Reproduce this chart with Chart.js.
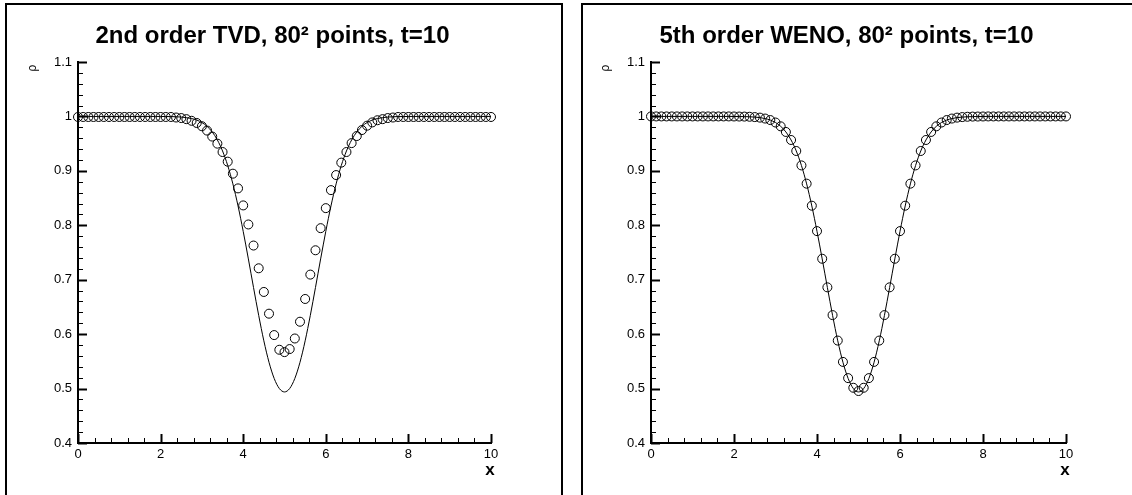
<!DOCTYPE html>
<html><head><meta charset="utf-8">
<script src="https://cdn.jsdelivr.net/npm/chart.js@4.4.1/dist/chart.umd.min.js"></script>
<style>
html,body{margin:0;padding:0;width:1132px;height:495px;overflow:hidden;background:#fff;}
.panel{position:absolute;top:3px;width:554px;height:600px;border:2px solid #000;}
#p1{left:5px;} #p2{left:581px;}
.wrap{position:absolute;top:0;height:495px;}
#w1{left:0;width:570px;} #w2{left:573px;width:559px;}
</style></head><body>
<div class="panel" id="p1"></div><div class="panel" id="p2"></div>
<div class="wrap" id="w1"><canvas id="c1"></canvas></div>
<div class="wrap" id="w2"><canvas id="c2"></canvas></div>
<script>
const xValues = [0,0.125,0.25,0.375,0.5,0.625,0.75,0.875,1,1.125,1.25,1.375,1.5,1.625,1.75,1.875,2,2.125,2.25,2.375,2.5,2.625,2.75,2.875,3,3.125,3.25,3.375,3.5,3.625,3.75,3.875,4,4.125,4.25,4.375,4.5,4.625,4.75,4.875,5,5.125,5.25,5.375,5.5,5.625,5.75,5.875,6,6.125,6.25,6.375,6.5,6.625,6.75,6.875,7,7.125,7.25,7.375,7.5,7.625,7.75,7.875,8,8.125,8.25,8.375,8.5,8.625,8.75,8.875,9,9.125,9.25,9.375,9.5,9.625,9.75,9.875,10];
const exactRho = [1,1,1,1,1,1,1,1,1,1,1,1,1,1,1,1,0.9999,0.9998,0.9997,0.9994,0.9988,0.9978,0.9961,0.9933,0.9888,0.9818,0.9715,0.9567,0.9365,0.9098,0.8761,0.8355,0.7889,0.7382,0.6857,0.6345,0.5877,0.5483,0.5186,0.5001,0.4938,0.5001,0.5186,0.5483,0.5877,0.6345,0.6857,0.7382,0.7889,0.8355,0.8761,0.9098,0.9365,0.9567,0.9715,0.9818,0.9888,0.9933,0.9961,0.9978,0.9988,0.9994,0.9997,0.9998,0.9999,1,1,1,1,1,1,1,1,1,1,1,1,1,1,1,1];
const tvdRho = [0.999,0.999,0.999,0.999,0.999,0.999,0.999,0.999,0.999,0.999,0.999,0.999,0.999,0.999,0.999,0.999,0.999,0.999,0.999,0.998,0.997,0.995,0.992,0.988,0.982,0.974,0.963,0.950,0.9346,0.9169,0.8948,0.8678,0.8365,0.8015,0.7628,0.721,0.6775,0.6376,0.5983,0.5713,0.567,0.5726,0.592,0.6228,0.6646,0.7094,0.7541,0.7947,0.8315,0.8646,0.8923,0.9151,0.9346,0.951,0.964,0.975,0.983,0.989,0.993,0.995,0.997,0.998,0.999,0.999,0.999,0.999,0.999,0.999,0.999,0.999,0.999,0.999,0.999,0.999,0.999,0.999,0.999,0.999,0.999,0.999,0.999];
const wenoRho = [1,1,1,1,1,1,1,1,1,1,1,1,1,1,1,1,0.9999,0.9998,0.9997,0.9994,0.9988,0.9978,0.9961,0.9933,0.9888,0.9818,0.9715,0.9567,0.9365,0.9100,0.8765,0.8360,0.7893,0.7385,0.6860,0.6350,0.5882,0.5490,0.5192,0.5015,0.4955,0.5015,0.5192,0.5490,0.5882,0.6350,0.6860,0.7385,0.7893,0.8360,0.8765,0.9100,0.9365,0.9567,0.9715,0.9818,0.9888,0.9933,0.9961,0.9978,0.9988,0.9994,0.9997,0.9998,0.9999,1,1,1,1,1,1,1,1,1,1,1,1,1,1,1,1];
const xTickValues = [0,2,4,6,8,10];
const xTickLabels = ['0','2','4','6','8','10'];
const yTickValues = [0.4,0.5,0.6,0.7,0.8,0.9,1.0,1.1];
const yTickLabels = ['0.4','0.5','0.6','0.7','0.8','0.9','1','1.1'];
const titles = ['2nd order TVD, 80\u00B2 points, t=10','5th order WENO, 80\u00B2 points, t=10'];
const FONT = '"Liberation Sans", Arial, Helvetica, sans-serif';

const decoPlugin = {
  id: 'deco',
  afterDraw(chart, args, opts) {
    const ctx = chart.ctx, a = chart.chartArea;
    const xs = chart.scales.x, ys = chart.scales.y;
    ctx.save();
    ctx.strokeStyle = '#000';
    for (let k = 0; k <= 25; k++) {
      const v = k * 0.4;
      const major = k % 5 === 0;
      const px = Math.round(xs.getPixelForValue(v)) + 0.5;
      ctx.lineWidth = major ? 2 : 1;
      ctx.beginPath();
      ctx.moveTo(px, a.bottom);
      ctx.lineTo(px, a.bottom - (major ? 9 : 5));
      ctx.stroke();
    }
    for (let k = 0; k <= 35; k++) {
      const v = 0.4 + k * 0.02;
      const major = k % 5 === 0;
      const py = Math.round(ys.getPixelForValue(v)) + 0.5;
      ctx.lineWidth = major ? 2 : 1;
      ctx.beginPath();
      ctx.moveTo(a.left, py);
      ctx.lineTo(a.left + (major ? 9 : 5), py);
      ctx.stroke();
    }
    ctx.fillStyle = '#000';
    ctx.font = 'bold 24px ' + FONT;
    ctx.textAlign = 'center';
    ctx.textBaseline = 'alphabetic';
    ctx.fillText(opts.title, (a.left + a.right) / 2 - 12, 43);
    ctx.font = 'bold 17px ' + FONT;
    ctx.fillText('x', a.right - 1, 475);
    ctx.translate(33, 68);
    ctx.rotate(-Math.PI / 2);
    ctx.font = '12px ' + FONT;
    ctx.textBaseline = 'middle';
    ctx.fillText('\u03C1', 0, 0);
    ctx.restore();
  }
};

function makePanel(id, title, pts, padRight) {
  return new Chart(document.getElementById(id), {
    type: 'scatter',
    data: { datasets: [
      { data: xValues.map((x, i) => ({x: x, y: exactRho[i]})), showLine: true, pointRadius: 0,
        borderColor: '#000', borderWidth: 1, cubicInterpolationMode: 'monotone' },
      { data: xValues.map((x, i) => ({x: x, y: pts[i]})), showLine: false, pointRadius: 4.5,
        pointBorderWidth: 1, pointBorderColor: '#000', pointBackgroundColor: 'rgba(0,0,0,0)',
        borderColor: '#000', clip: false }
    ]},
    options: {
      responsive: true, maintainAspectRatio: false, animation: false, events: [],
      layout: { autoPadding: false, padding: { top: 62, left: 0, right: padRight, bottom: 0 } },
      plugins: { legend: { display: false }, tooltip: { enabled: false }, title: { display: false },
                 deco: { title: title } },
      scales: {
        x: {
          type: 'linear', min: 0, max: 10,
          afterFit(s) { s.height = 52; },
          afterBuildTicks(s) { s.ticks = xTickValues.map(v => ({value: v})); },
          ticks: { callback: (v, i) => xTickLabels[i], padding: 4, color: '#000', maxRotation: 0,
                   font: { family: FONT, size: 13 } },
          grid: { display: false, drawTicks: false },
          border: { display: true, color: '#000', width: 2 }
        },
        y: {
          type: 'linear', min: 0.4, max: 1.1,
          afterFit(s) { s.width = 78; },
          afterBuildTicks(s) { s.ticks = yTickValues.map(v => ({value: v})); },
          ticks: { callback: (v, i) => yTickLabels[i], padding: 6, color: '#000',
                   font: { family: FONT, size: 13 } },
          grid: { display: false, drawTicks: false },
          border: { display: true, color: '#000', width: 2 }
        }
      }
    },
    plugins: [decoPlugin]
  });
}
makePanel('c1', titles[0], tvdRho, 79);
makePanel('c2', titles[1], wenoRho, 66);
</script>
</body></html>
